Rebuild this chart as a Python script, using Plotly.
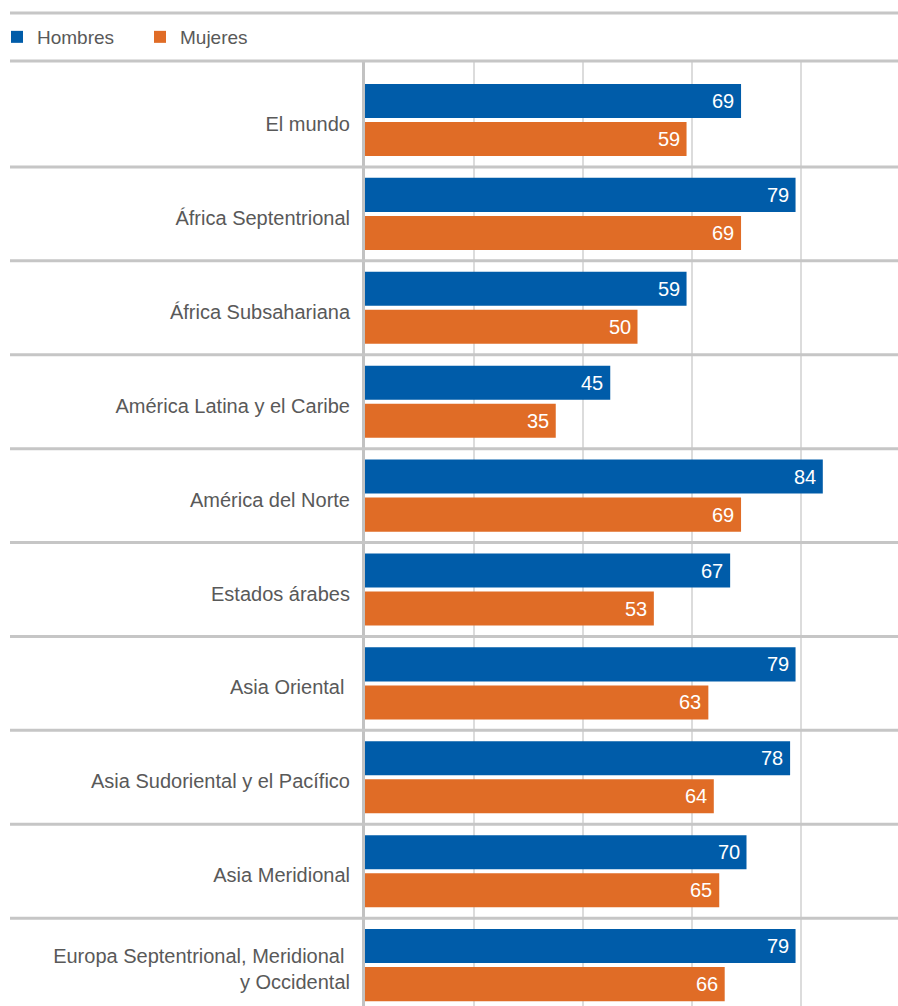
import plotly.graph_objects as go

# Regions (top to bottom) and values for each sex
regiones = [
    "El mundo",
    "África Septentrional",
    "África Subsahariana",
    "América Latina y el Caribe",
    "América del Norte",
    "Estados árabes",
    "Asia Oriental ",
    "Asia Sudoriental y el Pacífico",
    "Asia Meridional",
    "Europa Septentrional, Meridional <br>y Occidental",
]
hombres = [69, 79, 59, 45, 84, 67, 79, 78, 70, 79]
mujeres = [59, 69, 50, 35, 69, 53, 63, 64, 65, 66]

AZUL = "#005ca9"
NARANJA = "#e06c26"
GRIS_TEXTO = "#595959"
GRIS_LINEA = "#c6c6c6"
GRIS_GRID = "#dcdcdc"
FUENTE = "Liberation Sans, Arial, sans-serif"

W, H = 898, 1006
ML, MT = 365, 61
plot_w = W - ML
plot_h = H - MT

fig = go.Figure()
fig.add_trace(go.Bar(y=regiones, x=hombres, name="Hombres", orientation="h",
                     marker=dict(color=AZUL, line=dict(width=0))))
fig.add_trace(go.Bar(y=regiones, x=mujeres, name="Mujeres", orientation="h",
                     marker=dict(color=NARANJA, line=dict(width=0))))

# value labels inside the bar ends
annots = []
for serie, valores, dy in (("Hombres", hombres, 19), ("Mujeres", mujeres, -19)):
    for reg, v in zip(regiones, valores):
        annots.append(dict(x=v, y=reg, xref="x", yref="y", text=str(v),
                           showarrow=False, xanchor="right", yanchor="middle",
                           xshift=-5, yshift=dy,
                           font=dict(family=FUENTE, size=20, color="white")))

# horizontal separators spanning the label column and plot
x_izq = (10 - ML) / plot_w
shapes = []
for i in range(len(regiones) - 1):
    shapes.append(dict(type="line", xref="paper", yref="y", x0=x_izq, x1=1,
                       y0=i + 0.5, y1=i + 0.5,
                       line=dict(color=GRIS_LINEA, width=3)))
for ypx in (13, 61):
    yp = 1 + (MT - ypx) / plot_h
    shapes.append(dict(type="line", xref="paper", yref="paper", x0=x_izq, x1=1,
                       y0=yp, y1=yp, line=dict(color=GRIS_LINEA, width=3)))

fig.update_layout(
    width=W, height=H,
    margin=dict(l=ML, r=0, t=MT, b=0, pad=0, autoexpand=False),
    paper_bgcolor="white", plot_bgcolor="white",
    barmode="group", bargap=0.19, bargroupgap=0.105,
    font=dict(family=FUENTE, color=GRIS_TEXTO, size=20),
    showlegend=True,
    legend=dict(orientation="h", x=(-3 - ML) / plot_w, xanchor="left",
                y=1 + (MT - 37) / plot_h, yanchor="middle",
                entrywidth=98, entrywidthmode="pixels",
                font=dict(family=FUENTE, size=19, color=GRIS_TEXTO),
                bgcolor="rgba(0,0,0,0)", borderwidth=0, traceorder="normal"),
    xaxis=dict(range=[0, plot_w / 5.45], dtick=20, tick0=0, showgrid=True,
               gridcolor=GRIS_GRID, gridwidth=2, zeroline=False,
               showticklabels=False, showline=False, fixedrange=True),
    yaxis=dict(type="category", categoryorder="array", categoryarray=regiones,
               range=[len(regiones) - 1 + (H - 120 - 9 * 93.9) / 93.9, -(120 - MT) / 93.9],
               showgrid=False, zeroline=False, showline=True,
               linecolor="#c2c2c2", linewidth=3, ticks="",
               ticklabelstandoff=8, ticklabelshift=-4,
               tickfont=dict(family=FUENTE, size=20, color=GRIS_TEXTO),
               fixedrange=True),
    shapes=shapes,
    annotations=annots,
)

fig.write_html("out.html")
